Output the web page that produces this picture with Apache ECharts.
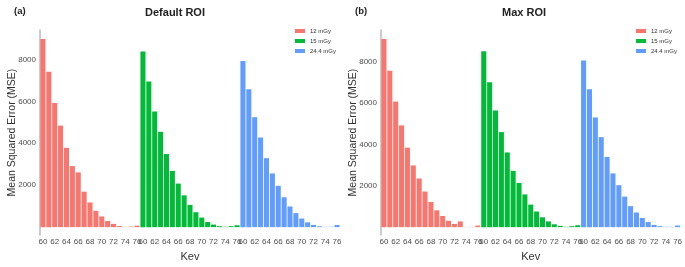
<!DOCTYPE html>
<html>
<head>
<meta charset="utf-8">
<script src="https://cdn.jsdelivr.net/npm/echarts@6/dist/echarts.min.js"></script>
<style>
  html, body { margin: 0; padding: 0; background: #fff; }
  #chart { width: 685px; height: 267px; }
</style>
</head>
<body>
<div id="chart"></div>
<script>
// data
var kev = [60, 61, 62, 63, 64, 65, 66, 67, 68, 69, 70, 71, 72, 73, 74, 75, 76];
var doses = ['12 mGy', '15 mGy', '24.4 mGy'];
var yTicks = [2000, 4000, 6000, 8000];

var defaultRoi12 = [8970, 7410, 5920, 4840, 3780, 2910, 2610, 1690, 1175, 775, 510, 290, 155, 50, 10, 25, 70];
var defaultRoi15 = [8380, 6940, 5515, 4545, 3485, 2682, 2076, 1515, 1061, 712, 455, 242, 121, 45, 15, 45, 90];
var defaultRoi24 = [7924, 6576, 5242, 4273, 3288, 2561, 1970, 1424, 985, 667, 409, 227, 106, 40, 12, 15, 100];

var maxRoi12 = [9108, 7569, 6077, 4923, 3846, 2985, 2354, 1723, 1215, 815, 538, 308, 154, 277, 5, 5, 77];
var maxRoi15 = [8508, 7015, 5646, 4600, 3615, 2723, 2138, 1585, 1092, 754, 477, 277, 138, 62, 15, 46, 92];
var maxRoi24 = [8062, 6677, 5308, 4354, 3400, 2600, 2031, 1477, 1015, 708, 446, 246, 108, 46, 15, 15, 77];

var colors = ['#F8766D', '#00BA38', '#619CFF'];

// one category per (dose, kev), names made unique then stripped for labels
var cats = [];
doses.forEach(function (d, g) {
    kev.forEach(function (k) { cats.push(g + '-' + k); });
});

function groupData(vals, g) {
    var out = [];
    for (var i = 0; i < cats.length; i++) {
        var j = i - g * kev.length;
        out.push(j >= 0 && j < kev.length ? vals[j] : '-');
    }
    return out;
}

var panels = [
    {left: 40, width: 300, min: -380, max: 9400, sets: [defaultRoi12, defaultRoi15, defaultRoi24]},
    {left: 381, width: 302, min: -385, max: 9540, sets: [maxRoi12, maxRoi15, maxRoi24]}
];

var labelColor = '#4d4d4d';
var grids = [], xAxes = [], yAxes = [], series = [], legends = [];

panels.forEach(function (p, pi) {
    grids.push({left: p.left, width: p.width, top: 30, height: 215});
    xAxes.push({
        type: 'category',
        gridIndex: pi,
        data: cats,
        boundaryGap: true,
        axisLine: {show: false},
        axisTick: {show: false},
        splitLine: {show: false},
        axisLabel: {
            color: labelColor,
            fontSize: 8,
            margin: 3,
            interval: function (idx, val) { return +val.split('-')[1] % 2 === 0; },
            formatter: function (val) { return val.split('-')[1]; }
        },
        name: 'Kev',
        nameLocation: 'middle',
        nameGap: 11,
        nameTextStyle: {color: '#333', fontSize: 11}
    });
    yAxes.push({
        type: 'value',
        gridIndex: pi,
        min: p.min,
        max: p.max,
        axisLine: {show: true, lineStyle: {color: '#bbb', width: 1.5}},
        axisTick: {show: false},
        splitLine: {show: false},
        axisLabel: {
            color: labelColor, fontSize: 8, margin: 4, customValues: yTicks,
            formatter: function (v) { return String(v); }
        },
        name: 'Mean Squared Error (MSE)',
        nameLocation: 'middle',
        nameGap: 22,
        nameMoveOverlap: false,
        nameTextStyle: {color: '#333', fontSize: 10.5}
    });
    p.sets.forEach(function (vals, g) {
        series.push({
            type: 'bar',
            name: doses[g],
            xAxisIndex: pi,
            yAxisIndex: pi,
            barGap: '-100%',
            barCategoryGap: '14%',
            itemStyle: {color: colors[g]},
            data: groupData(vals, g)
        });
    });
    legends.push({
        orient: 'vertical',
        left: p.left + 255,
        top: 28,
        padding: 0,
        itemWidth: 10,
        itemHeight: 4,
        itemGap: 4,
        icon: 'rect',
        data: doses,
        textStyle: {color: '#333', fontSize: 6}
    });
});

var myChart = echarts.init(document.getElementById('chart'));
myChart.setOption({
    animation: false,
    color: colors,
    textStyle: {fontFamily: 'Liberation Sans, Arial, sans-serif'},
    title: [
        {text: '(a)', left: 9, top: 1, textStyle: {fontSize: 9.5, fontWeight: 'bold', color: '#222'}},
        {text: 'Default ROI', left: 170, top: 2, textAlign: 'center', textStyle: {fontSize: 11, fontWeight: 'bold', color: '#222'}},
        {text: '(b)', left: 350, top: 1, textStyle: {fontSize: 9.5, fontWeight: 'bold', color: '#222'}},
        {text: 'Max ROI', left: 519, top: 2, textAlign: 'center', textStyle: {fontSize: 11, fontWeight: 'bold', color: '#222'}}
    ],
    legend: legends,
    grid: grids,
    xAxis: xAxes,
    yAxis: yAxes,
    series: series
});
</script>
</body>
</html>
